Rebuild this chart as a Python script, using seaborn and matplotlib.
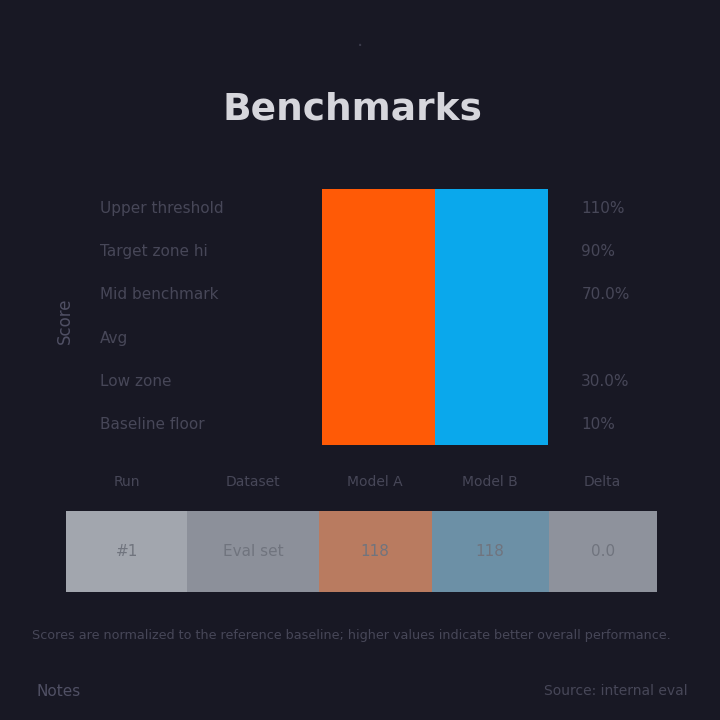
import matplotlib
matplotlib.use("Agg")
import matplotlib.pyplot as plt
import pandas as pd
import seaborn as sns

# chart data
models = ["Model A", "Model B"]
scores = [118, 118]
bar_colors = ["#FF5A06", "#0AA8EC"]

left_ticks = [110, 90, 70, 50, 30, 10]
left_labels = ["Upper threshold", "Target zone hi", "Mid benchmark", "Avg", "Low zone", "Baseline floor"]
right_ticks = [110, 90, 70, 30, 10]
right_labels = ["110%", "90%", "70.0%", "30.0%", "10%"]

table_headers = ["Run", "Dataset", "Model A", "Model B", "Delta"]
table_values = ["#1", "Eval set", "118", "118", "0.0"]
table_colors = ["#A2A6AE", "#8C909A", "#B97B60", "#6C90A6", "#8E929C"]
col_widths = [120, 130, 112, 116, 107]

BG = "#181824"
FAINT = "#474758"

sns.set_theme(style="dark")
plt.rcParams["font.family"] = ["DejaVu Sans"]

fig = plt.figure(figsize=(7.2, 7.2), dpi=100, facecolor=BG)

# title block
fig.text(0.5, 0.935, "·", ha="center", va="center", color="#3A3A4A", fontsize=14)
fig.text(0.49, 0.848, "Benchmarks", ha="center", va="center", color="#D6D6DC",
         fontsize=27, fontweight="bold")

# main bars
ax = fig.add_axes([0.447, 0.382, 0.314, 0.361])
ax.set_facecolor(BG)
df = pd.DataFrame({"model": models, "score": scores})
sns.barplot(data=df, x="model", y="score", hue="model", palette=bar_colors,
            width=1.0, legend=False, ax=ax, saturation=1, linewidth=0)
ax.set_xlim(-0.5, 1.5)
ax.set_ylim(0, 120)
for s in ax.spines.values():
    s.set_visible(False)
ax.set_xticks([])
ax.set_xlabel("")
ax.set_ylabel("")
ax.set_yticks(left_ticks)
ax.set_yticklabels(left_labels, color=FAINT, fontsize=11)
ax.tick_params(axis="y", length=0, pad=160)
for t in ax.get_yticklabels():
    t.set_ha("left")
ax.grid(False)

ax2 = ax.twinx()
ax2.set_ylim(0, 120)
ax2.set_yticks(right_ticks)
ax2.set_yticklabels(right_labels, color=FAINT, fontsize=11)
ax2.tick_params(axis="y", length=0, pad=24)
for s in ax2.spines.values():
    s.set_visible(False)
ax2.grid(False)

fig.text(0.09, 0.555, "Score", rotation=90, ha="center", va="center",
         color="#505064", fontsize=12)

# summary table
tax = fig.add_axes([0.092, 0.178, 0.82, 0.112])
tax.set_facecolor(BG)
tax.axis("off")
total = sum(col_widths)
tbl = tax.table(cellText=[table_values], cellColours=[table_colors],
                colWidths=[w / total for w in col_widths],
                cellLoc="center", bbox=[0, 0, 1, 1])
for (r, c), cell in tbl.get_celld().items():
    cell.set_edgecolor("none")
    cell.get_text().set_color("#70747E")
    cell.get_text().set_fontsize(11)

# header labels
x0 = 0.092
acc = 0
for h, w in zip(table_headers, col_widths):
    cx = x0 + 0.82 * (acc + w / 2) / total
    fig.text(cx, 0.33, h, ha="center", va="center", color=FAINT, fontsize=10)
    acc += w

# footnote and source
fig.text(0.045, 0.117, "Scores are normalized to the reference baseline; higher values indicate better overall performance.",
         ha="left", va="center", color=FAINT, fontsize=9.2)
fig.text(0.05, 0.04, "Notes", ha="left", va="center", color="#505064", fontsize=11)
fig.text(0.955, 0.04, "Source: internal eval", ha="right", va="center", color=FAINT, fontsize=10)

fig.savefig("out.png", dpi=100, facecolor=BG)
